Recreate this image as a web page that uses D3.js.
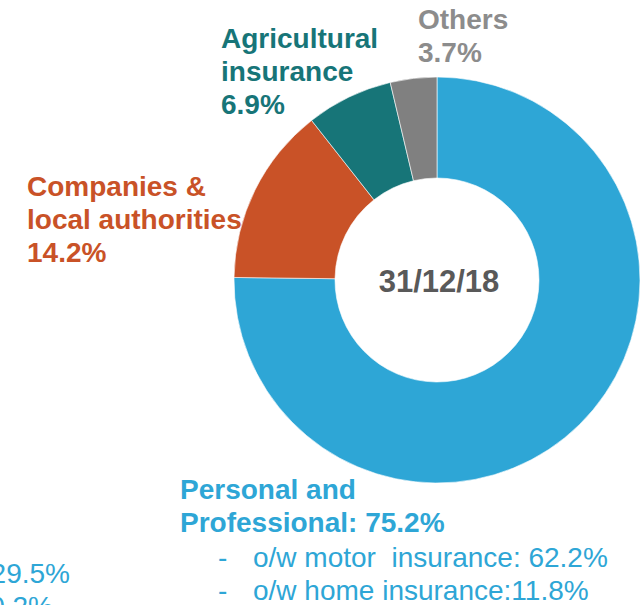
<!DOCTYPE html>
<html>
<head>
<meta charset="utf-8">
<script src="https://cdn.jsdelivr.net/npm/d3@7"></script>
<style>
  body { margin: 0; background: #fff; }
  svg text { font-family: "Liberation Sans", Arial, sans-serif; white-space: pre; }
</style>
</head>
<body>
<div id="chart-container"></div>
<script>
// data
const categories = ["Personal and Professional", "Companies & local authorities", "Agricultural insurance", "Others"];
const shares = [75.2, 14.2, 6.9, 3.7];
const sliceColors = ["#2ea6d6", "#c95227", "#177578", "#808080"];
const labelColors = ["#2ea6d6", "#c95227", "#177578", "#8c8c8c"];
const labelLines = [
  ["Personal and", "Professional: 75.2%"],
  ["Companies &", "local authorities", "14.2%"],
  ["Agricultural", "insurance", "6.9%"],
  ["Others", "3.7%"]
];
const subItems = ["o/w motor  insurance: 62.2%", "o/w home insurance:11.8%"];
const clippedLeft = ["29.5%", "10.2%"];
const centerLabel = "31/12/18";

const width = 644, height = 605;
const cx = 437, cy = 280;
const outerR = 203, innerR = 102;
const lineH = 33;

const svg = d3.select("#chart-container")
  .append("svg")
  .attr("width", width)
  .attr("height", height);

const pie = d3.pie().sort(null).value(d => d);
const arc = d3.arc().innerRadius(innerR).outerRadius(outerR);

const g = svg.append("g").attr("transform", `translate(${cx},${cy})`);

g.selectAll("path")
  .data(pie(shares))
  .join("path")
  .attr("d", arc)
  .attr("fill", (d, i) => sliceColors[i])
  .attr("stroke", "#fff")
  .attr("stroke-width", 0.6);

// centre label
svg.append("text")
  .attr("x", cx + 2)
  .attr("y", cy + 12)
  .attr("text-anchor", "middle")
  .style("font-size", "31px")
  .style("font-weight", "bold")
  .style("fill", "#595959")
  .text(centerLabel);

// category labels (left edge, first baseline)
const labelPos = [[180, 499], [27, 196], [221, 48], [418, 29]];

labelLines.forEach((lines, i) => {
  const t = svg.append("text")
    .attr("x", labelPos[i][0])
    .attr("y", labelPos[i][1])
    .style("font-size", "28px")
    .style("font-weight", "bold")
    .style("fill", labelColors[i]);
  lines.forEach((s, j) => {
    t.append("tspan")
      .attr("x", labelPos[i][0])
      .attr("dy", j === 0 ? 0 : lineH)
      .text(s);
  });
});

// breakdown of personal & professional
subItems.forEach((s, j) => {
  svg.append("text")
    .attr("x", 218)
    .attr("y", 567 + j * lineH)
    .style("font-size", "28px")
    .style("fill", sliceColors[0])
    .text("-");
  svg.append("text")
    .attr("x", 253)
    .attr("y", 567 + j * lineH)
    .style("font-size", "28px")
    .style("fill", sliceColors[0])
    .text(s);
});

// clipped text from a neighbouring panel
clippedLeft.forEach((s, j) => {
  svg.append("text")
    .attr("x", j === 0 ? 70 : 53)
    .attr("y", 583 + j * lineH)
    .attr("text-anchor", "end")
    .style("font-size", "28px")
    .style("fill", sliceColors[0])
    .text(s);
});
</script>
</body>
</html>
